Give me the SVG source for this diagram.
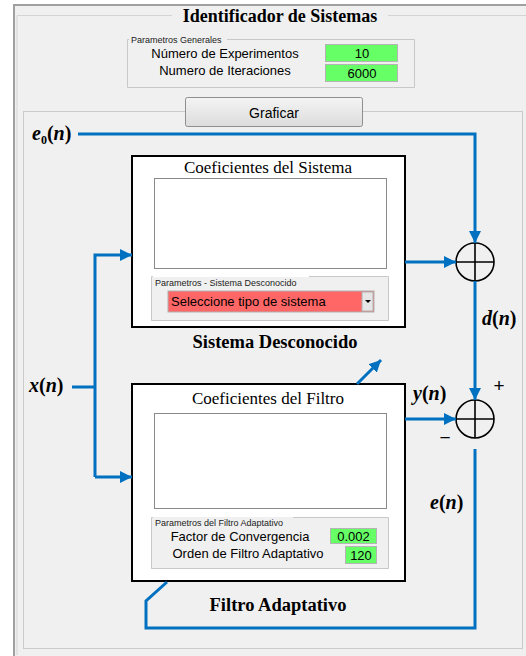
<svg xmlns="http://www.w3.org/2000/svg" width="526" height="656" viewBox="0 0 526 656">
<style>
.ui{font-family:"Liberation Sans",Arial,sans-serif;fill:#000}
.small{font-family:"Liberation Sans",Arial,sans-serif;font-size:9px;fill:#222}
.ser{font-family:"Liberation Serif","Times New Roman",serif;fill:#000}
.math{font-family:"Liberation Serif","Times New Roman",serif;font-weight:bold;font-size:20px;fill:#000}
.grp{fill:none;stroke:#c8c8c8;stroke-width:1}
.box{fill:#fff;stroke:#000;stroke-width:2}
.list{fill:#fff;stroke:#8a8a8a;stroke-width:1}
.green{fill:#66ff66;stroke:#b4b4b4;stroke-width:1}
.wire{fill:none;stroke:#0070c0;stroke-width:3}
.sum{fill:none;stroke:#000;stroke-width:1.6}
</style>
<defs>
<marker id="arr" markerUnits="userSpaceOnUse" markerWidth="12" markerHeight="12" refX="12" refY="6" orient="auto">
<path d="M0,0 L12,6 L0,12 z" fill="#0070c0"/>
</marker>
<linearGradient id="btn" x1="0" y1="0" x2="0" y2="1"><stop offset="0" stop-color="#f4f4f4"/><stop offset="1" stop-color="#dcdcdc"/></linearGradient>
</defs>
<rect x="0" y="0" width="526" height="656" fill="#fff"/>
<rect x="14" y="5" width="520" height="660" fill="#f0f0f0" stroke="#a0a0a0" stroke-width="2"/>
<g id="frame">
<path d="M172,15.5 H17 V655 M388,15.5 H526" fill="none" stroke="#d4d4d4"/>
<text class="ser" x="280" y="22" font-size="18" font-weight="bold" text-anchor="middle">Identificador de Sistemas</text>
</g>
<g id="params-generales">
<path d="M129,39.5 H127.5 V87.5 H414.5 V39.5 H227" class="grp"/>
<text class="small" x="131" y="43">Parametros Generales</text>
<text class="ui" x="225" y="58" font-size="13" text-anchor="middle">Número de Experimentos</text>
<text class="ui" x="225" y="75" font-size="13" text-anchor="middle">Numero de Iteraciones</text>
<rect class="green" x="325.5" y="44.5" width="72" height="17"/>
<text class="ui" x="362" y="58" font-size="13" text-anchor="middle">10</text>
<rect class="green" x="325.5" y="64.5" width="72" height="17"/>
<text class="ui" x="362" y="78" font-size="13" text-anchor="middle">6000</text>
</g>
<g id="inner-panel">
<rect x="23.5" y="111.5" width="499" height="537" fill="#f0f0f0" stroke="#cacaca"/>
</g>
<g id="graficar">
<rect x="185.5" y="97.5" width="177" height="29" rx="2" fill="url(#btn)" stroke="#8f8f8f"/>
<text class="ui" x="274" y="117.5" font-size="14" text-anchor="middle">Graficar</text>
</g>
<g id="sistema">
<rect class="box" x="132" y="156" width="273" height="171"/>
<text class="ser" x="268" y="173" font-size="17" text-anchor="middle">Coeficientes del Sistema</text>
<rect class="list" x="154.5" y="178.5" width="232" height="90"/>
<rect x="151" y="277" width="238" height="44" fill="#f0f0f0"/>
<path d="M153,276.5 H151.5 V320.5 H388.5 V276.5 H309" class="grp"/>
<text class="small" x="155" y="286">Parametros - Sistema Desconocido</text>
<rect x="168" y="291" width="206" height="21" fill="#ff6666" stroke="#b0b0b0"/>
<rect x="362" y="292" width="11" height="19" fill="#e6e6e6" stroke="#b0b0b0"/>
<path d="M365,300 h6 l-3,3 z" fill="#000"/>
<text class="ui" x="171" y="306" font-size="13">Seleccione tipo de sistema</text>
<text class="ser" x="275" y="348" font-size="18.5" font-weight="bold" text-anchor="middle">Sistema Desconocido</text>
</g>
<g id="filtro">
<rect class="box" x="132" y="384" width="273" height="197"/>
<text class="ser" x="268" y="404" font-size="17" text-anchor="middle">Coeficientes del Filtro</text>
<rect class="list" x="154.5" y="413.5" width="232" height="95"/>
<rect x="151" y="517" width="238" height="52" fill="#f0f0f0"/>
<path d="M153,517.5 H151.5 V568.5 H388.5 V517.5 H293" class="grp"/>
<text class="small" x="155" y="526">Parametros del Filtro Adaptativo</text>
<text class="ui" x="240" y="541" font-size="13" text-anchor="middle">Factor de Convergencia</text>
<text class="ui" x="248" y="558" font-size="13" text-anchor="middle">Orden de Filtro Adaptativo</text>
<rect class="green" x="330.5" y="528.5" width="46" height="15"/>
<text class="ui" x="353.5" y="541" font-size="13" text-anchor="middle">0.002</text>
<rect class="green" x="345.5" y="546.5" width="31" height="17"/>
<text class="ui" x="361" y="560" font-size="13" text-anchor="middle">120</text>
<text class="ser" x="278" y="611" font-size="18.5" font-weight="bold" text-anchor="middle">Filtro Adaptativo</text>
</g>
<g id="sum1">
<circle class="sum" cx="475" cy="262" r="19"/>
<path class="sum" d="M456,262 H494 M475,243 V281"/>
</g>
<g id="sum2">
<circle class="sum" cx="475" cy="419" r="19"/>
<path class="sum" d="M456,419 H494 M475,400 V438"/>
<text class="ui" x="499" y="392" font-size="19" text-anchor="middle">+</text>
<text class="ui" x="445" y="444" font-size="19" text-anchor="middle">−</text>
</g>
<g id="labels">
<text class="math" x="32" y="140"><tspan font-style="italic">e</tspan><tspan font-size="12" dy="4">0</tspan><tspan dy="-4">(</tspan><tspan font-style="italic">n</tspan>)</text>
<text class="math" x="29" y="392"><tspan font-style="italic">x</tspan>(<tspan font-style="italic">n</tspan>)</text>
<text class="math" x="482" y="325"><tspan font-style="italic">d</tspan>(<tspan font-style="italic">n</tspan>)</text>
<text class="math" x="413" y="400"><tspan font-style="italic">y</tspan>(<tspan font-style="italic">n</tspan>)</text>
<text class="math" x="430" y="509"><tspan font-style="italic">e</tspan>(<tspan font-style="italic">n</tspan>)</text>
</g>
<g id="connectors">
<path class="wire" d="M78,134 H475 V243" marker-end="url(#arr)"/>
<path class="wire" d="M405,262 H456" marker-end="url(#arr)"/>
<path class="wire" d="M72,387 H95"/>
<path class="wire" d="M95,477 V255 H132" marker-end="url(#arr)"/>
<path class="wire" d="M95,477 H132" marker-end="url(#arr)"/>
<path class="wire" d="M475,281 V400" marker-end="url(#arr)"/>
<path class="wire" d="M405,419 H456" marker-end="url(#arr)"/>
<path class="wire" d="M475,449 V628 H146 V601 L167,582"/>
<path class="wire" d="M357,384 L381,360" marker-end="url(#arr)"/>
</g>
</svg>
